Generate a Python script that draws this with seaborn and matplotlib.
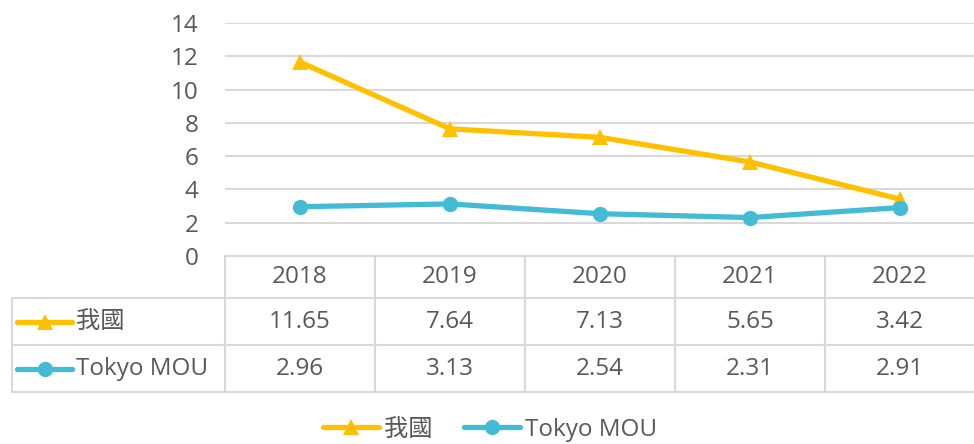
import matplotlib.pyplot as plt
import seaborn as sns
import numpy as np
from matplotlib.lines import Line2D
from matplotlib.transforms import blended_transform_factory

# 資料
years = ['2018', '2019', '2020', '2021', '2022']
series_names = ['我國', 'Tokyo MOU']
ours = [11.65, 7.64, 7.13, 5.65, 3.42]
tokyo = [2.96, 3.13, 2.54, 2.31, 2.91]
colors = ['#FFC000', '#44BBD4']
markers = ['^', 'o']

sns.set_theme(style='white')
plt.rcParams['font.family'] = ['Open Sans', 'Noto Sans CJK TC', 'DejaVu Sans']

TXT = '#595959'
GRID = '#D9D9D9'
FS = 17.5
LW = 3.8

W, H = 974, 444
fig = plt.figure(figsize=(W / 100, H / 100), dpi=100)

# 繪圖區 (像素)
left, right, top, bottom = 225, 975, 23, 256
ax = fig.add_axes([left / W, 1 - bottom / H, (right - left) / W, (bottom - top) / H])

x = np.arange(len(years))
for vals, name, c, m in zip([ours, tokyo], series_names, colors, markers):
    sns.lineplot(x=x, y=vals, ax=ax, color=c, marker=m, markersize=11,
                 markeredgewidth=0, linewidth=LW, label=name, legend=False)

ax.set_xlim(-0.5, len(years) - 0.5)
ax.set_ylim(0, 14)
ax.set_yticks(range(0, 15, 2))
ax.set_xticks([])
ax.set_xlabel('')
ax.set_ylabel('')
ax.grid(True, axis='y', color=GRID, linewidth=1.5)
ax.set_axisbelow(True)
for s in ax.spines.values():
    s.set_visible(False)
ax.tick_params(axis='y', length=0, pad=19, labelsize=FS, labelcolor=TXT)


def fy(py):
    return 1 - py / H


def fx(px):
    return px / W


# 資料表
row_lines = [298, 345, 392]
header_y, row_y = 277, [322, 369]
tr = blended_transform_factory(ax.transData, fig.transFigure)

fig.add_artist(Line2D([fx(left), fx(right)], [fy(bottom)] * 2, color=GRID, lw=1.5))
for py in row_lines:
    fig.add_artist(Line2D([fx(12), fx(right)], [fy(py)] * 2, color=GRID, lw=1.5))
fig.add_artist(Line2D([fx(12), fx(12)], [fy(row_lines[0]), fy(row_lines[-1])], color=GRID, lw=1.5))
for i in range(len(years) + 1):
    ax.add_artist(Line2D([i - 0.5, i - 0.5], [fy(bottom), fy(row_lines[-1])],
                         color=GRID, lw=1.5, transform=tr, clip_on=False))

for i, yr in enumerate(years):
    ax.text(i, fy(header_y), yr, transform=tr, ha='center', va='center',
            fontsize=FS, color=TXT)

for vals, name, c, m, py in zip([ours, tokyo], series_names, colors, markers, row_y):
    for i, v in enumerate(vals):
        ax.text(i, fy(py), f'{v:.2f}', transform=tr, ha='center', va='center',
                fontsize=FS, color=TXT)
    fig.add_artist(Line2D([fx(17), fx(72)], [fy(py)] * 2, color=c, lw=LW,
                          solid_capstyle='round'))
    fig.add_artist(Line2D([fx(44.5)], [fy(py)], color=c, marker=m,
                          markersize=11, markeredgewidth=0))
    fig.text(fx(76), fy(py), name, ha='left', va='center', fontsize=FS, color=TXT)

# 圖例
handles = [Line2D([], [], color=c, marker=m, lw=LW, markersize=11, markeredgewidth=0,
                  solid_capstyle='round')
           for c, m in zip(colors, markers)]
fig.legend(handles, series_names, loc='center', bbox_to_anchor=(fx(490), fy(430)),
           ncol=2, frameon=False, fontsize=FS, labelcolor=TXT, handlelength=2.3,
           handletextpad=0.2, columnspacing=1.3)

fig.savefig('out.png', dpi=100)
